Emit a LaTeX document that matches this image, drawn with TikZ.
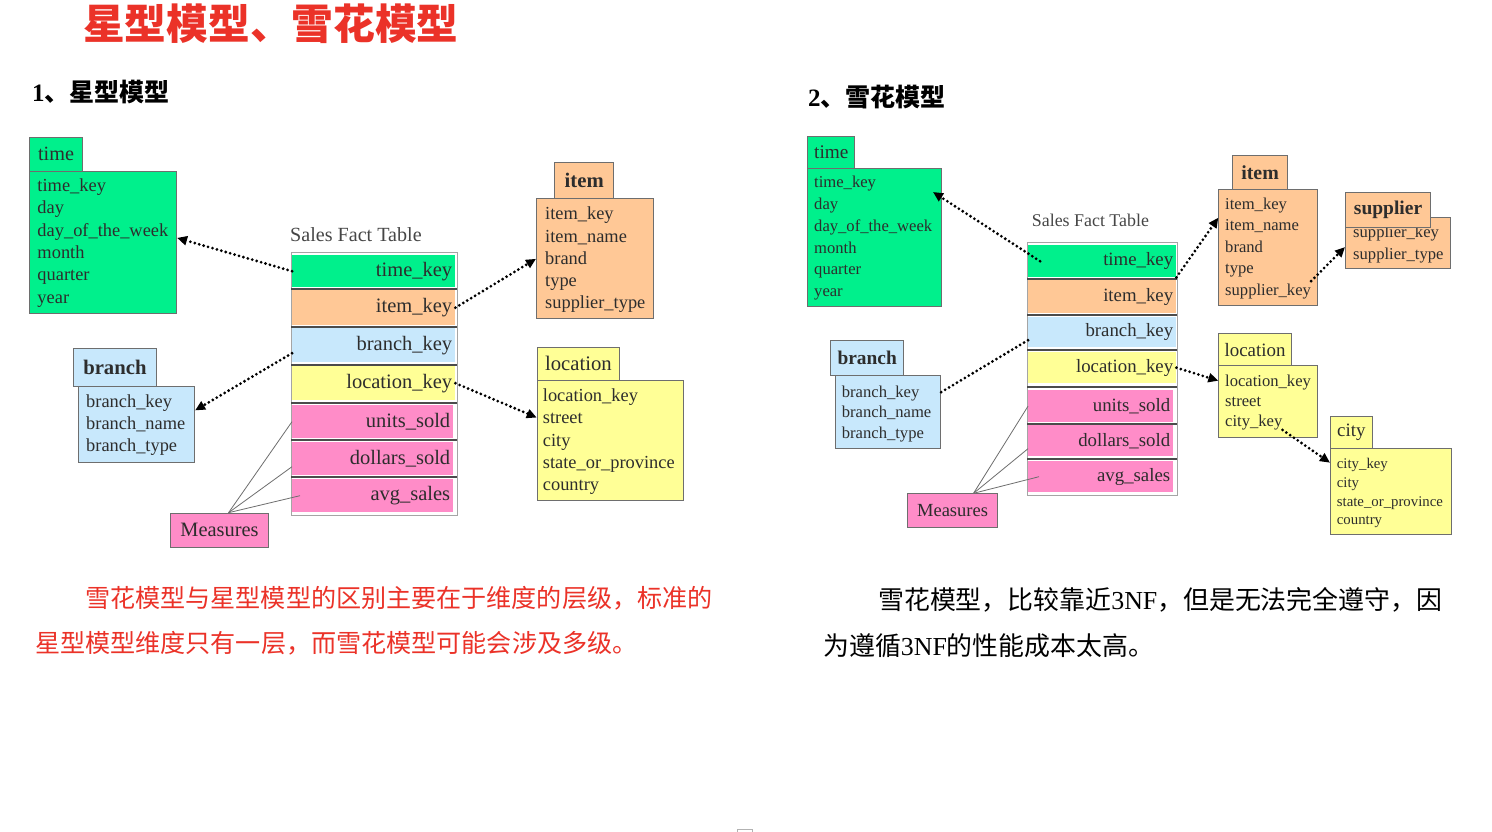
\documentclass[tikz,border=0pt]{standalone}
\usepackage{fontspec}
\setmainfont{Liberation Serif}
\newfontfamily\cjk{Noto Sans CJK SC}
\usetikzlibrary{arrows.meta}

\definecolor{dimgreen}{RGB}{0,240,140}
\definecolor{dimorange}{RGB}{255,200,150}
\definecolor{dimblue}{RGB}{200,232,252}
\definecolor{dimyellow}{RGB}{255,255,150}
\definecolor{mpink}{RGB}{255,140,200}
\definecolor{boxline}{RGB}{110,110,110}
\definecolor{outerline}{RGB}{165,165,165}
\definecolor{sepline}{RGB}{75,75,75}
\definecolor{titlered}{RGB}{235,50,40}
\definecolor{txt}{RGB}{45,45,45}
\definecolor{captxt}{RGB}{70,70,70}

% a table box: name, fill, x, y (top left), width, height
\newcommand\tblbox[6]{\node[tbl, fill=#2, minimum width=#5, minimum height=#6] (#1) at (#3,#4) {};}
% a column of field names: prefix, x, y of first line centre, line step, font size, list
\newcommand\fieldcol[6]{%
  \foreach \f [count=\i] in {#6}
    \node[fieldtxt, font=\fontsize{#5}{#5}\selectfont] (#1\i) at (#2, {#3+#4*(\i-1)+0.27*#5}) {\f};}

\begin{document}
\begin{tikzpicture}[x=1pt, y=-1pt,
  tbl/.style={draw=boxline, line width=1.1pt, anchor=north west, inner sep=0},
  tabbox/.style={draw=boxline, line width=1.1pt, anchor=north west, inner sep=0, text=txt},
  fieldtxt/.style={anchor=base west, inner sep=0, text=txt},
  factrow/.style={anchor=north west, inner sep=0, draw=none},
  facttxt/.style={anchor=east, inner sep=0, text=txt},
  outerbox/.style={draw=outerline, line width=1.1pt, anchor=north west, inner sep=0},
  rowsep/.style={draw=sepline, line width=2pt},
  dotline/.style={draw=black, line width=3.1pt, line cap=round, dash pattern=on 0pt off 4.6pt},
  dotarrow/.style={dotline, -{Triangle[length=10pt,width=9pt]}},
  measline/.style={draw=boxline, line width=0.8pt},
  caption/.style={anchor=west, inner sep=0, text=captxt}]

\useasboundingbox (0,0) rectangle (1492,832);
\fill[white] (0,0) rectangle (1492,832);

% headings
\node[anchor=west, inner sep=0, text=titlered, font=\cjk\bfseries\fontsize{41.7}{41.7}\selectfont] (title) at (83,24) {星型模型、雪花模型};
\node[anchor=base west, inner sep=0, font=\bfseries\fontsize{25}{25}\selectfont] (headstar) at (32,102) {1{\cjk 、星型模型}};
\node[anchor=base west, inner sep=0, font=\bfseries\fontsize{25}{25}\selectfont] (headsnow) at (808,107) {2{\cjk 、雪花模型}};

% ================= star schema =================
% time
\tblbox{ltimeb}{dimgreen}{29.3}{170.7}{146.7}{142.3}
\node[tabbox, fill=dimgreen, minimum width=52.4, minimum height=34, font=\fontsize{20.2}{20.2}\selectfont] (ltimet) at (29.3,136.7) {time};
\fieldcol{ltf}{37.3}{186.7}{22.3}{18.4}{time\_key,day,day\_of\_the\_week,month,quarter,year}

% item
\tblbox{litemb}{dimorange}{536}{198.3}{117.3}{120}
\node[tabbox, fill=dimorange, minimum width=59.3, minimum height=36.6, font=\bfseries\fontsize{20.7}{20.7}\selectfont] (litemt) at (554,161.7) {item};
\fieldcol{lif}{545}{215}{22.2}{18.4}{item\_key,item\_name,brand,type,supplier\_type}

% branch
\tblbox{lbranchb}{dimblue}{78}{386}{116}{75.7}
\node[tabbox, fill=dimblue, minimum width=83.3, minimum height=38, font=\bfseries\fontsize{20.7}{20.7}\selectfont] (lbrancht) at (72.7,348) {branch};
\fieldcol{lbf}{86}{403}{22}{18.4}{branch\_key,branch\_name,branch\_type}

% location
\tblbox{llocb}{dimyellow}{536.7}{380}{146.3}{120}
\node[tabbox, fill=dimyellow, minimum width=82.3, minimum height=33.3, font=\fontsize{20.7}{20.7}\selectfont] (lloct) at (536.7,346.7) {location};
\fieldcol{llf}{542.7}{396.7}{22.3}{18.4}{location\_key,street,city,state\_or\_province,country}

% fact table
\node[caption, font=\fontsize{20.1}{20.1}\selectfont] (lfactcap) at (290,235) {Sales Fact Table};
\node[outerbox, minimum width=166, minimum height=263] (lfact) at (291,252) {};
\node[factrow, fill=dimgreen,  minimum width=163, minimum height=32] (lrow1) at (292,255) {};
\node[factrow, fill=dimorange, minimum width=163, minimum height=35] (lrow2) at (292,290) {};
\node[factrow, fill=dimblue,   minimum width=163, minimum height=34] (lrow3) at (292,328) {};
\node[factrow, fill=dimyellow, minimum width=163, minimum height=34] (lrow4) at (292,366) {};
\node[factrow, fill=mpink,     minimum width=161, minimum height=33] (lrow5) at (292,405) {};
\node[factrow, fill=mpink,     minimum width=161, minimum height=33] (lrow6) at (292,442) {};
\node[factrow, fill=mpink,     minimum width=161, minimum height=33] (lrow7) at (292,479) {};
\foreach \yy in {288.5,327,364.5,402.5,440,477}
  \draw[rowsep] (291,\yy) -- (457,\yy);
\foreach \n/\t in {1/time\_key,2/item\_key,3/branch\_key,4/location\_key,5/units\_sold,6/dollars\_sold,7/avg\_sales}
  \node[facttxt, font=\fontsize{20.5}{20.5}\selectfont] (lrowt\n) at ([xshift=-3pt]lrow\n.east) {\t};

% measures
\node[tabbox, fill=mpink, minimum width=98, minimum height=34, font=\fontsize{20.4}{20.4}\selectfont] (lmeas) at (170,512.7) {Measures};

% connectors
\draw[dotarrow] (lrow1.west) -- ([yshift=4.5pt]ltimeb.east);
\draw[dotarrow] (lrow2.east) -- (litemb.west);
\draw[dotarrow] ([yshift=-8pt]lrow3.west) -- ([yshift=14pt]lbranchb.east);
\draw[dotarrow] (lrow4.east) -- ([yshift=23pt]llocb.west);
\draw[measline] ([xshift=9pt]lmeas.north) -- (lrow5.west);
\draw[measline] ([xshift=9pt]lmeas.north) -- ([yshift=-8pt]lrow6.west);
\draw[measline] ([xshift=9pt]lmeas.north) -- ([xshift=8pt]lrow7.west);

% ================= snowflake schema =================
% time
\tblbox{rtimeb}{dimgreen}{807.3}{167.7}{133.4}{138}
\node[tabbox, fill=dimgreen, minimum width=47, minimum height=31.7, font=\fontsize{19.3}{19.3}\selectfont] (rtimet) at (807.3,136) {time};
\fieldcol{rtf}{814}{183.3}{21.8}{16.6}{time\_key,day,day\_of\_the\_week,month,quarter,year}
\coordinate (rtimein) at (933,192);

% item
\tblbox{ritemb}{dimorange}{1218.3}{189.3}{98.4}{115.7}
\node[tabbox, fill=dimorange, minimum width=54.4, minimum height=34.3, font=\bfseries\fontsize{19.9}{19.9}\selectfont] (ritemt) at (1232.3,155) {item};
\fieldcol{rif}{1225}{205}{21.4}{16.6}{item\_key,item\_name,brand,type,supplier\_key}

% supplier
\tblbox{rsupb}{dimorange}{1345}{216.7}{105}{51.6}
\fieldcol{rsf}{1353}{233.3}{21.7}{16.6}{supplier\_key,supplier\_type}
\node[tabbox, fill=dimorange, minimum width=85, minimum height=35, font=\bfseries\fontsize{19.5}{19.5}\selectfont] (rsupt) at (1345,191.7) {supplier};

% branch
\tblbox{rbranchb}{dimblue}{835}{375}{105}{73.3}
\node[tabbox, fill=dimblue, minimum width=73.3, minimum height=35, font=\bfseries\fontsize{19.4}{19.4}\selectfont] (rbrancht) at (830,340) {branch};
\fieldcol{rbf}{841.7}{392.7}{20.7}{16.6}{branch\_key,branch\_name,branch\_type}

% location
\tblbox{rlocb}{dimyellow}{1218.3}{365}{99}{72.3}
\node[tabbox, fill=dimyellow, minimum width=72.4, minimum height=31.7, font=\fontsize{18.9}{18.9}\selectfont] (rloct) at (1218.3,333.3) {location};
\fieldcol{rlf}{1225}{381.7}{20}{16.6}{location\_key,street,city\_key}

% city
\tblbox{rcityb}{dimyellow}{1330}{448.3}{120.7}{85.7}
\node[tabbox, fill=dimyellow, minimum width=41.7, minimum height=32.3, font=\fontsize{18.9}{18.9}\selectfont] (rcityt) at (1330,416) {city};
\fieldcol{rcf}{1336.7}{465}{18.6}{14.8}{city\_key,city,state\_or\_province,country}

% fact table
\node[caption, font=\fontsize{17.9}{17.9}\selectfont] (rfactcap) at (1031.7,220) {Sales Fact Table};
\node[outerbox, minimum width=150, minimum height=253] (rfact) at (1027,242) {};
\node[factrow, fill=dimgreen,  minimum width=148, minimum height=32] (rrow1) at (1028,245) {};
\node[factrow, fill=dimorange, minimum width=148, minimum height=33] (rrow2) at (1028,280) {};
\node[factrow, fill=dimblue,   minimum width=148, minimum height=30] (rrow3) at (1028,317) {};
\node[factrow, fill=dimyellow, minimum width=148, minimum height=31] (rrow4) at (1028,352) {};
\node[factrow, fill=mpink,     minimum width=145, minimum height=32] (rrow5) at (1028,390) {};
\node[factrow, fill=mpink,     minimum width=145, minimum height=31] (rrow6) at (1028,425) {};
\node[factrow, fill=mpink,     minimum width=145, minimum height=31] (rrow7) at (1028,461) {};
\foreach \yy in {278.5,315,349.5,386.5,423.5,459}
  \draw[rowsep] (1027,\yy) -- (1177,\yy);
\foreach \n/\t in {1/time\_key,2/item\_key,3/branch\_key,4/location\_key,5/units\_sold,6/dollars\_sold,7/avg\_sales}
  \node[facttxt, font=\fontsize{18.8}{18.8}\selectfont] (rrowt\n) at ([xshift=-3pt]rrow\n.east) {\t};

% measures
\node[tabbox, fill=mpink, minimum width=89.4, minimum height=33.4, font=\fontsize{18.5}{18.5}\selectfont] (rmeas) at (907.3,493.3) {Measures};

% connectors
\draw[dotarrow] ([xshift=12pt]rrow1.west) -- (rtimein);
\draw[dotarrow] (rrow1.south east) -- ([yshift=30pt]ritemb.west);
\draw[dotarrow] ([yshift=10pt]rif5.east) -- ([yshift=-4pt]rsupb.west);
\draw[dotline]  ([yshift=-8pt]rrow3.west) -- ([yshift=20pt]rbranchb.east);
\draw[dotarrow] (rrow4.east) -- ([yshift=21pt]rlocb.west);
\draw[dotarrow] (rlf3.south east) -- ([yshift=29pt]rcityb.west);
\draw[measline] ([xshift=21pt]rmeas.north) -- (rrow5.west);
\draw[measline] ([xshift=21pt]rmeas.north) -- ([yshift=-8pt]rrow6.west);
\draw[measline] ([xshift=21pt]rmeas.north) -- ([xshift=11pt]rrow7.west);

% ================= notes =================
\node[anchor=west, inner sep=0, text=titlered, font=\cjk\fontsize{25.1}{25.1}\selectfont] (noteL1) at (85,598) {雪花模型与星型模型的区别主要在于维度的层级，标准的};
\node[anchor=west, inner sep=0, text=titlered, font=\cjk\fontsize{25.1}{25.1}\selectfont] (noteL2) at (35,643) {星型模型维度只有一层，而雪花模型可能会涉及多级。};
\node[anchor=west, inner sep=0, text=black, font=\cjk\fontsize{25.9}{25.9}\selectfont] (noteR1) at (878,600) {雪花模型，比较靠近{\rmfamily 3NF}，但是无法完全遵守，因};
\node[anchor=west, inner sep=0, text=black, font=\cjk\fontsize{25.9}{25.9}\selectfont] (noteR2) at (823,646) {为遵循{\rmfamily 3NF}的性能成本太高。};

% small page mark at the foot
\draw[gray!60, line width=1pt] (737,832) -- (737,829.5) -- (752,829.5) -- (752,832);
\end{tikzpicture}
\end{document}
